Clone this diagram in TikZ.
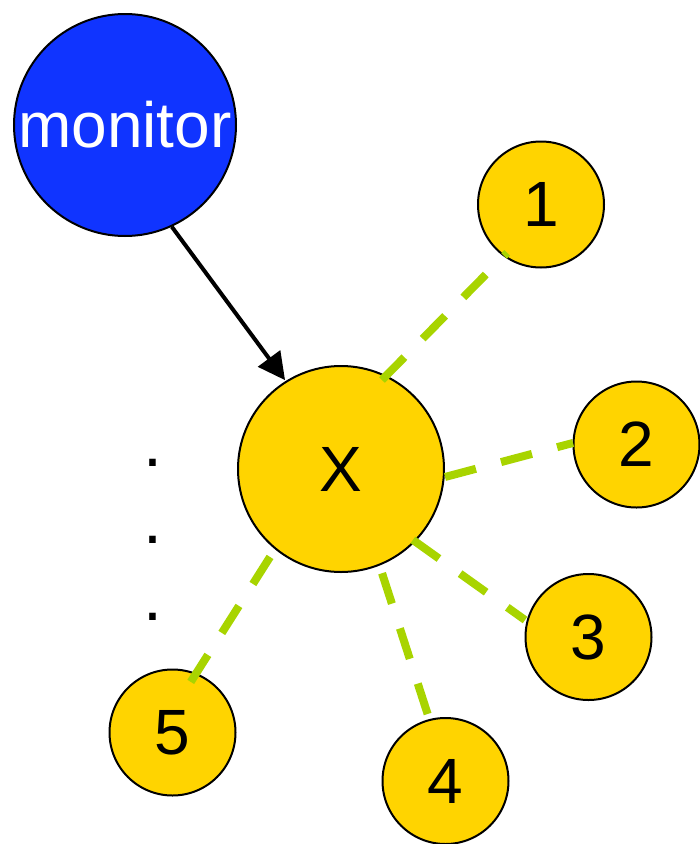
\documentclass[tikz,border=0pt]{standalone}
\usepackage{fontspec}
\setmainfont{Liberation Sans}
\usetikzlibrary{arrows.meta,calc}
\definecolor{monblue}{HTML}{1034FF}
\definecolor{nodeyel}{HTML}{FFD400}
\definecolor{linkgreen}{HTML}{A8D400}
\begin{document}
\begin{tikzpicture}[x=1pt,y=-1pt,
  bigfont/.style={font=\fontsize{64}{64}\selectfont},
  bubble/.style={circle,draw=black,line width=2pt,fill=nodeyel,inner sep=0pt,minimum size=126pt,bigfont},
  hub/.style={bubble,minimum size=206pt},
  monnode/.style={circle,draw=black,line width=2pt,fill=monblue,text=white,inner sep=0pt,minimum size=222pt,bigfont},
  link/.style={draw=linkgreen,line width=8pt,line cap=butt,dash pattern=on 32pt off 26pt},
  arrowline/.style={draw=black,line width=4pt,-{Triangle[length=27pt,width=27pt]}},
  dotmark/.style={inner sep=0pt,anchor=base,font=\fontsize{68}{68}\selectfont}
]
\useasboundingbox (0,0) rectangle (700,844);

\node[monnode] (mon) at (125,125) {monitor};
\node[hub] (X) at (341,469) {X};
\node[bubble] (n1) at (541,204.5) {1};
\node[bubble] (n2) at (636.5,444.5) {2};
\node[bubble] (n3) at (588.5,637) {3};
\node[bubble] (n4) at (445.5,781) {4};
\node[bubble] (n5) at (172.5,732.5) {5};

\node[dotmark] (d1) at (153,466.7) {.};
\node[dotmark] (d2) at (153,543.7) {.};
\node[dotmark] (d3) at (153,620.7) {.};

\draw[arrowline] ($(mon.center)+(-65.3:112pt)$) -- ($(X.center)+(122.2:105pt)$);

\draw[link] ($(X.center)+(65.3:98pt)$) -- ($(n1.center)+(235:59pt)$);
\draw[link] ($(X.center)+(-4.4:104.3pt)$) -- ($(n2.center)+(178.6:63.5pt)$);
\draw[link] ($(X.center)+(-44.6:101pt)$) -- ($(n3.center)+(165:65.7pt)$);
\draw[link] ($(X.center)+(-68.5:112pt)$) -- ($(n4.center)+(104.9:68.3pt)$);
\draw[link] ($(X.center)+(231.1:113pt)$) -- ($(n5.center)+(70.5:52.5pt)$);
\end{tikzpicture}
\end{document}
